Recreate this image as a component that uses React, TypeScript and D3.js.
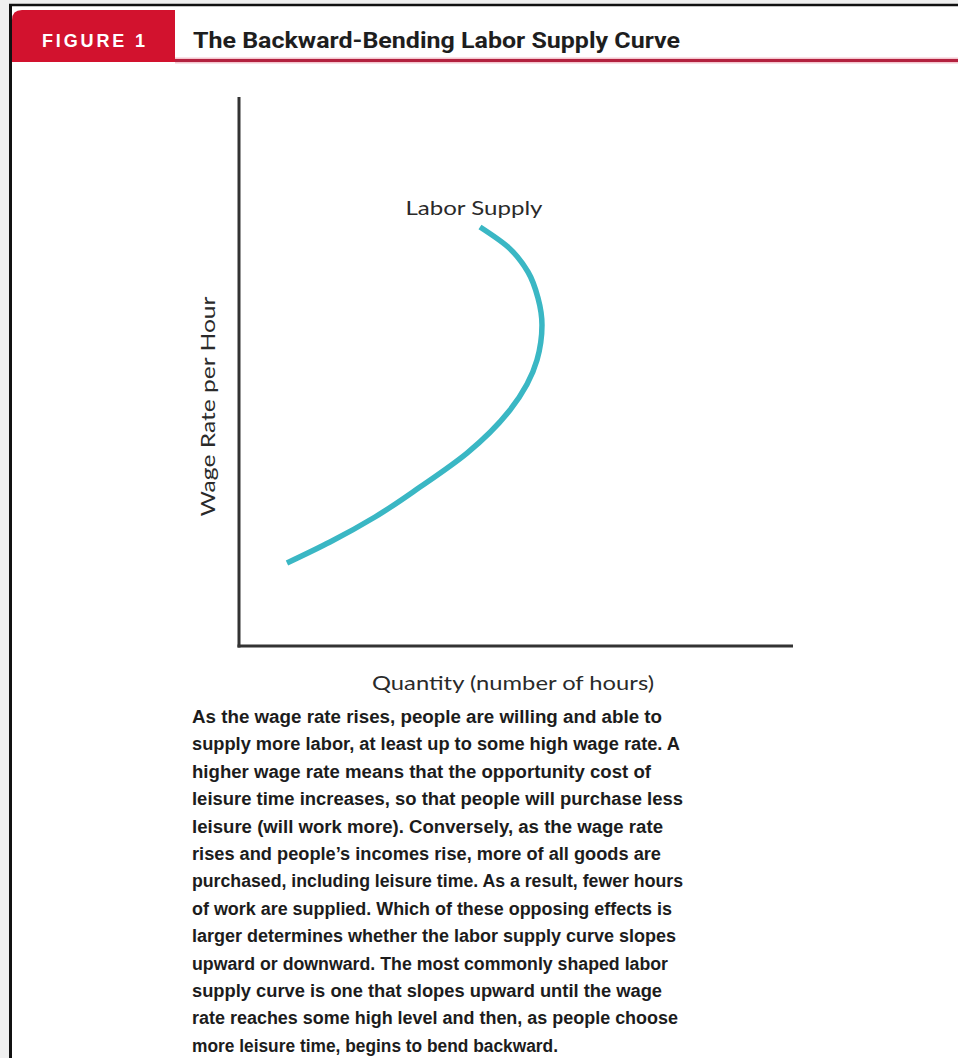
import React from "react";
import * as d3 from "d3";

// Labor supply curve in abstract units: quantity (x) vs wage rate (y), 0–100 each
const supplyQuantity = [8.66, 16.43, 24.55, 32.67, 41.16, 48.92, 53.79, 54.69, 53.97, 52.17, 48.56, 43.5];
const supplyWage = [15.12, 18.94, 23.5, 28.96, 35.15, 42.99, 52.09, 58.47, 63.39, 68.12, 72.68, 76.32];

const figureTag = "FIGURE 1";
const figureTitle = "The Backward-Bending Labor Supply Curve";
const curveLabel = "Labor Supply";
const xAxisLabel = "Quantity (number of hours)";
const yAxisLabel = "Wage Rate per Hour";

const captionLines = [
  "As the wage rate rises, people are willing and able to",
  "supply more labor, at least up to some high wage rate. A",
  "higher wage rate means that the opportunity cost of",
  "leisure time increases, so that people will purchase less",
  "leisure (will work more). Conversely, as the wage rate",
  "rises and people\u2019s incomes rise, more of all goods are",
  "purchased, including leisure time. As a result, fewer hours",
  "of work are supplied. Which of these opposing effects is",
  "larger determines whether the labor supply curve slopes",
  "upward or downward. The most commonly shaped labor",
  "supply curve is one that slopes upward until the wage",
  "rate reaches some high level and then, as people choose",
  "more leisure time, begins to bend backward.",
];
// set widths of each caption line (ragged right)
const captionWidths = [470, 488, 459, 491, 471, 469, 491, 480, 484, 476, 470, 486, 366];

const W = 958;
const H = 1058;

export default function App() {
  const plot = { left: 239, right: 793, top: 97, bottom: 646 };
  const x = d3.scaleLinear().domain([0, 100]).range([plot.left, plot.right]);
  const y = d3.scaleLinear().domain([0, 100]).range([plot.bottom, plot.top]);

  const points: [number, number][] = supplyQuantity.map((q, i) => [q, supplyWage[i]]);
  // wage rises monotonically along the curve, so interpolate quantity as a function of wage
  const line = d3
    .line<[number, number]>()
    .x((d) => x(d[0]))
    .y((d) => y(d[1]))
    .curve(d3.curveMonotoneY);

  const top = points[points.length - 1];
  const tabPath = "M12,62 L12,20 Q12,10 22,10 L175,10 L175,62 Z";

  const captionX = 192;
  const captionY0 = 723;
  const captionStep = 27.4;

  return (
    <svg
      width={W}
      height={H}
      viewBox={`0 0 ${W} ${H}`}
      style={{ position: "absolute", left: 0, top: 0, display: "block" }}
    >
      <rect x={0} y={0} width={W} height={H} fill="#efefef" />
      <rect x={11} y={6} width={W - 11} height={H - 6} fill="#ffffff" />
      {/* frame */}
      <line x1={10.5} y1={4} x2={10.5} y2={H} stroke="#111" strokeWidth={3} />
      <line x1={9} y1={5} x2={W} y2={5} stroke="#111" strokeWidth={2.5} />

      {/* header */}
      <path d={tabPath} fill="#d2122e" />
      <line x1={175} y1={60.5} x2={W} y2={60.5} stroke="#f4c6cf" strokeWidth={6} />
      <line x1={175} y1={60.5} x2={W} y2={60.5} stroke="#b3213f" strokeWidth={3} />
      <text
        x={42}
        y={47}
        fill="#ffffff"
        fontFamily="'Liberation Sans', Arial, sans-serif"
        fontWeight="bold"
        fontSize={18}
        textLength={103}
        lengthAdjust="spacing"
      >
        {figureTag}
      </text>
      <text
        x={193}
        y={48}
        fill="#1e1e1e"
        fontFamily="'Liberation Sans Narrow', 'Roboto', sans-serif"
        fontWeight="bold"
        fontSize={22}
        textLength={487}
        lengthAdjust="spacingAndGlyphs"
      >
        {figureTitle}
      </text>

      {/* axes */}
      <line x1={x(0)} y1={y(100)} x2={x(0)} y2={y(0) + 1.5} stroke="#333" strokeWidth={3} />
      <line x1={x(0) - 1.5} y1={y(0)} x2={x(100)} y2={y(0)} stroke="#333" strokeWidth={3} />

      {/* supply curve */}
      <path d={line(points) ?? ""} fill="none" stroke="#3ab7c4" strokeWidth={5.5} strokeLinecap="butt" />
      <text
        x={x(top[0]) - 6}
        y={y(top[1]) - 12}
        textAnchor="middle"
        fill="#2a2a2a"
        fontFamily="Lato, 'Open Sans', sans-serif"
        fontSize={20}
        textLength={137}
        lengthAdjust="spacingAndGlyphs"
      >
        {curveLabel}
      </text>

      {/* axis labels */}
      <text
        x={513}
        y={690}
        textAnchor="middle"
        fill="#2a2a2a"
        fontFamily="Lato, 'Open Sans', sans-serif"
        fontSize={20}
        textLength={282}
        lengthAdjust="spacingAndGlyphs"
      >
        {xAxisLabel}
      </text>
      <text
        transform={`translate(215, ${(plot.top + plot.bottom) / 2 + 35}) rotate(-90)`}
        textAnchor="middle"
        fill="#2a2a2a"
        fontFamily="Lato, 'Open Sans', sans-serif"
        fontSize={20}
        textLength={220}
        lengthAdjust="spacingAndGlyphs"
      >
        {yAxisLabel}
      </text>

      {/* caption */}
      {captionLines.map((t, i) => (
        <text
          key={i}
          x={captionX}
          y={captionY0 + i * captionStep}
          fill="#1c1c1c"
          fontFamily="'Liberation Sans', Arial, sans-serif"
          fontWeight="bold"
          fontSize={18}
          textLength={captionWidths[i]}
          lengthAdjust="spacingAndGlyphs"
        >
          {t}
        </text>
      ))}
    </svg>
  );
}
